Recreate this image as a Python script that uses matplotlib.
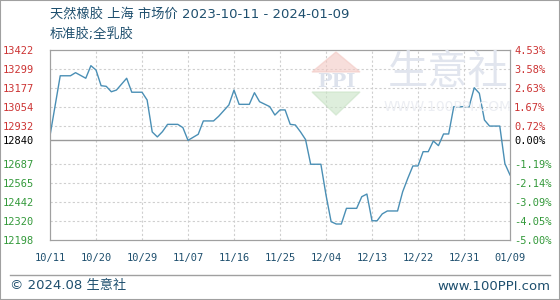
import pandas as pd
import matplotlib
matplotlib.use("Agg")
from matplotlib import pyplot as plt
from matplotlib.patches import Polygon

# price series
dates = ["2023-10-11", "2023-10-13", "2023-10-15", "2023-10-16", "2023-10-18", "2023-10-19",
         "2023-10-20", "2023-10-21", "2023-10-22", "2023-10-23", "2023-10-24", "2023-10-26",
         "2023-10-27", "2023-10-29", "2023-10-30", "2023-10-31", "2023-11-01", "2023-11-02",
         "2023-11-03", "2023-11-05", "2023-11-06", "2023-11-07", "2023-11-09", "2023-11-10",
         "2023-11-12", "2023-11-13", "2023-11-15", "2023-11-16", "2023-11-17", "2023-11-19",
         "2023-11-20", "2023-11-21", "2023-11-23", "2023-11-24", "2023-11-25", "2023-11-26",
         "2023-11-27", "2023-11-28", "2023-11-29", "2023-11-30", "2023-12-01", "2023-12-03",
         "2023-12-04", "2023-12-05", "2023-12-06", "2023-12-07", "2023-12-08", "2023-12-10",
         "2023-12-11", "2023-12-12", "2023-12-13", "2023-12-14", "2023-12-15", "2023-12-16",
         "2023-12-18", "2023-12-19", "2023-12-20", "2023-12-21", "2023-12-22", "2023-12-23",
         "2023-12-24", "2023-12-25", "2023-12-26", "2023-12-27", "2023-12-28", "2023-12-29",
         "2024-01-01", "2024-01-02", "2024-01-03", "2024-01-04", "2024-01-05", "2024-01-07",
         "2024-01-08", "2024-01-09"]
prices = [12870, 13256, 13256, 13276, 13240, 13321,
          13293, 13192, 13188, 13153, 13164, 13240,
          13150, 13150, 13100, 12894, 12862, 12896,
          12943, 12943, 12922, 12840, 12879, 12965,
          12965, 12995, 13068, 13164, 13072, 13072,
          13147, 13089, 13057, 13003, 13036, 13036,
          12943, 12939, 12895, 12845, 12686, 12686,
          12488, 12316, 12301, 12301, 12402, 12402,
          12477, 12494, 12322, 12322, 12366, 12385,
          12385, 12509, 12595, 12675, 12675, 12767,
          12767, 12836, 12806, 12881, 12881, 13057,
          13057, 13179, 13143, 12971, 12932, 12932,
          12690, 12617]

base = 12840
left_ticks = [13422, 13299, 13177, 13054, 12932, 12840, 12687, 12565, 12442, 12320, 12198]
right_labels = ["4.53%", "3.58%", "2.63%", "1.67%", "0.72%", "0.00%",
                "-1.19%", "-2.14%", "-3.09%", "-4.05%", "-5.00%"]
x_ticks = ["2023-10-11", "2023-10-20", "2023-10-29", "2023-11-07", "2023-11-16", "2023-11-25",
           "2023-12-04", "2023-12-13", "2023-12-22", "2023-12-31", "2024-01-09"]

RED = "#cc3333"
GREEN = "#33993a"
BLUE_TXT = "#1e4f6e"
CJK = ["DejaVu Sans", "Noto Sans CJK SC"]

d = pd.to_datetime(dates)
xt = pd.to_datetime(x_ticks)

fig = plt.figure(figsize=(5.6, 3.0), dpi=100)
ax = fig.add_axes([50 / 560, 0.2, 460 / 560, 190 / 300])

# watermark
fig.patches.append(Polygon([(336 / 560, 1 - 52 / 300), (312 / 560, 1 - 72 / 300), (360 / 560, 1 - 72 / 300)],
                           closed=True, transform=fig.transFigure, color="#f3c9c4", alpha=0.6, zorder=0))
fig.patches.append(Polygon([(312 / 560, 1 - 92 / 300), (360 / 560, 1 - 92 / 300), (336 / 560, 1 - 115 / 300)],
                           closed=True, transform=fig.transFigure, color="#c9e3c6", alpha=0.6, zorder=0))
fig.text(336 / 560, 1 - 82 / 300, "PPI", ha="center", va="center", fontsize=14, fontweight="bold",
         color="#dde2ec", family="DejaVu Serif", zorder=0)
fig.text(448 / 560, 1 - 73 / 300, "生意社", ha="center", va="center", fontsize=29, color="#e1e5ee",
         family=CJK, zorder=0)
fig.text(448 / 560, 1 - 107 / 300, "WWW.100PPI.COM", ha="center", va="center", fontsize=10,
         color="#eceef3", zorder=0)
ax.set_facecolor("none")

ax.plot(d, prices, color="#4a8fb5", lw=1.0, zorder=3)
ax.axhline(base, color="#9a9a9a", lw=1.0, zorder=2)

ax.set_xlim(xt[0], xt[-1])
ax.set_ylim(left_ticks[-1], left_ticks[0])
ax.set_xticks(xt)
ax.set_xticklabels([t.strftime("%m/%d") for t in xt], family="DejaVu Sans Mono", fontsize=7.5, color=BLUE_TXT)
ax.set_yticks(left_ticks)
ax.set_yticklabels([str(v) for v in left_ticks], family="DejaVu Sans Mono", fontsize=7.5)
for lab, v in zip(ax.get_yticklabels(), left_ticks):
    lab.set_color(RED if v > base else (GREEN if v < base else "black"))

ax2 = ax.twinx()
ax2.set_ylim(ax.get_ylim())
ax2.set_yticks(left_ticks)
ax2.set_yticklabels(right_labels, family="DejaVu Sans Mono", fontsize=7.5)
for lab, v in zip(ax2.get_yticklabels(), left_ticks):
    lab.set_color(RED if v > base else (GREEN if v < base else "black"))

for a in (ax, ax2):
    a.tick_params(length=0)
    for s in a.spines.values():
        s.set_color("#a0a0a0")
ax.tick_params(axis="y", pad=11.5)
ax.tick_params(axis="x", pad=9)
ax2.tick_params(axis="y", pad=3)

for t in xt[1:-1]:
    ax.axvline(t, color="#cfcfcf", lw=0.8, ls=(0, (2, 2)), zorder=1)
for v in left_ticks[1:-1]:
    if v != base:
        ax.axhline(v, color="#cfcfcf", lw=0.8, ls=(0, (2, 2)), zorder=1)

fig.text(50 / 560, 1 - 15 / 300, "天然橡胶 上海 市场价 2023-10-11 - 2024-01-09", fontsize=9.5,
         color=BLUE_TXT, va="center", family=CJK)
fig.text(50 / 560, 1 - 34 / 300, "标准胶;全乳胶", fontsize=9.5, color=BLUE_TXT, va="center", family=CJK)

# footer
fig.add_artist(plt.Line2D([10 / 560, 550 / 560], [1 - 275 / 300, 1 - 275 / 300], color="#a0a0a0", lw=1))
fig.text(10 / 560, 1 - 286 / 300, "© 2024.08 生意社", fontsize=9.5, color=BLUE_TXT, va="center", family=CJK)
fig.text(550 / 560, 1 - 286 / 300, "www.100PPI.com", fontsize=9.5, color=BLUE_TXT, va="center", ha="right")
fig.add_artist(plt.Rectangle((0, 0), 1, 1, transform=fig.transFigure, fill=False, ec="#a0a0a0", lw=1.5))

fig.savefig("out.png", dpi=100)
